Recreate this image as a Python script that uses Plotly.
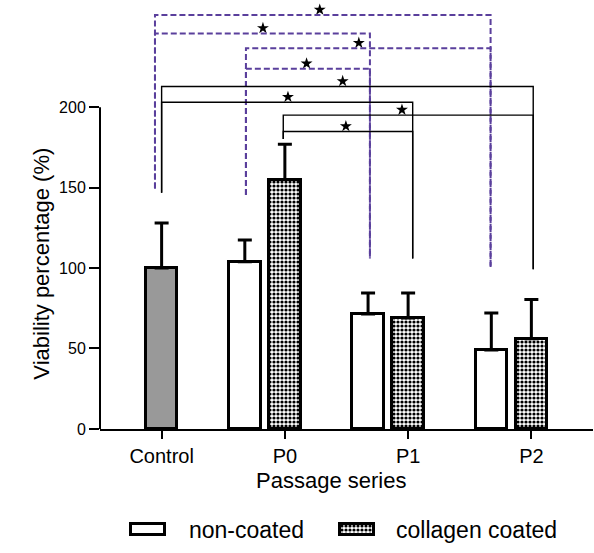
import plotly.graph_objects as go

# ---------------- data ----------------
categories = ["Control", "P0", "P1", "P2"]
group_pos = [0, 1, 2, 3]

control_value = [100]
control_err = [28]

noncoated_values = [104, 71.5, 49]
noncoated_err = [13.5, 13, 23]

collagen_values = [155, 69, 56]
collagen_err = [22, 15.5, 24.5]

y_ticks = [0, 50, 100, 150, 200]

# significance brackets: (x_left, x_right, y_top, y_left_end, y_right_end, star_x, dashed)
brackets = [
    (-0.054, 2.669, 257.3, 149.4, 100.6, 1.283, True),
    (-0.054, 1.690, 245.9, 149.4, 105.9, 0.822, True),
    (0.684, 2.669, 236.7, 145.5, 100.6, 1.600, True),
    (0.684, 1.690, 223.9, 145.5, 105.9, 1.176, True),
    (0.0, 3.015, 212.9, 146.9, 99.2, 1.469, False),
    (0.0, 2.037, 203.1, 146.9, 105.9, 1.025, False),
    (0.987, 3.015, 195.1, 180.2, 99.2, 1.950, False),
    (0.987, 2.037, 184.9, 180.2, 105.9, 1.495, False),
]

# ---------------- style ----------------
FONT = "Arial, Liberation Sans, Helvetica, sans-serif"
W, H = 594, 553
PLOT_L, PLOT_R, PLOT_BOTTOM = 100, 593, 436
OFFSET = 0.325
BAR_W = 0.255
PURPLE = "#5a3f9c"
pattern = dict(shape=".", fgcolor="black", bgcolor="white", size=4, solidity=0.5, fillmode="replace")

fig = go.Figure()

err_style = dict(type="data", symmetric=False, thickness=3, width=7, color="black")

fig.add_trace(go.Bar(
    x=[group_pos[0]], y=control_value, width=BAR_W,
    marker=dict(color="#999999", line=dict(color="black", width=3)),
    error_y=dict(array=control_err, arrayminus=[0] * len(control_err), **err_style),
    showlegend=False,
))
fig.add_trace(go.Bar(
    x=[p - OFFSET for p in group_pos[1:]], y=noncoated_values, width=BAR_W,
    marker=dict(color="white", line=dict(color="black", width=3)),
    error_y=dict(array=noncoated_err, arrayminus=[0] * len(noncoated_err), **err_style),
    showlegend=False,
))
fig.add_trace(go.Bar(
    x=group_pos[1:], y=collagen_values, width=BAR_W,
    marker=dict(color="white", line=dict(color="black", width=3), pattern=pattern),
    error_y=dict(array=collagen_err, arrayminus=[0] * len(collagen_err), **err_style),
    showlegend=False,
))

# brackets
shapes = []
star_x, star_y = [], []
for xl, xr, yt, yle, yre, sx, dashed in brackets:
    line = dict(color=PURPLE, width=2, dash="6px,3px") if dashed else dict(color="black", width=1.4)
    shapes.append(dict(
        type="path", xref="x", yref="y",
        path=f"M {xl},{yle} L {xl},{yt} L {xr},{yt} L {xr},{yre}",
        line=line, layer="above",
    ))
    star_x.append(sx)
    star_y.append(yt + 3.3)

fig.add_trace(go.Scatter(
    x=star_x, y=star_y, mode="markers",
    marker=dict(symbol="star", size=9, color="black", line=dict(width=0)),
    showlegend=False, hoverinfo="skip",
))

# y axis line drawn only up to 200
shapes.append(dict(type="line", xref="paper", yref="y",
                   x0=PLOT_L / W, x1=PLOT_L / W, y0=0, y1=200,
                   line=dict(color="black", width=2)))

# legend swatches on a pixel-coordinate helper axis
fig.add_trace(go.Bar(
    x=[148.3], y=[11], base=[532.5], width=[34], xaxis="x2", yaxis="y2",
    marker=dict(color="white", line=dict(color="black", width=3)),
    showlegend=False, hoverinfo="skip",
))
fig.add_trace(go.Bar(
    x=[356.5], y=[11], base=[532.5], width=[34], xaxis="x2", yaxis="y2",
    marker=dict(color="white", line=dict(color="black", width=3), pattern=pattern),
    showlegend=False, hoverinfo="skip",
))

annotations = [
    dict(text="non-coated", x=187, y=538.5, xref="x2", yref="y2", xanchor="left", yanchor="middle",
         showarrow=False, font=dict(family=FONT, size=23, color="black")),
    dict(text="collagen coated", x=394, y=538.5, xref="x2", yref="y2", xanchor="left", yanchor="middle",
         showarrow=False, font=dict(family=FONT, size=23, color="black")),
    dict(text="Passage series", x=331, y=488, xref="x2", yref="y2", xanchor="center", yanchor="middle",
         showarrow=False, font=dict(family=FONT, size=22, color="black")),
    dict(text="Viability percentage (%)", x=42, y=268, xref="x2", yref="y2", xanchor="center",
         yanchor="middle", textangle=-90, showarrow=False, font=dict(family=FONT, size=22, color="black")),
]

y_top = PLOT_BOTTOM / (327.0 / 200.0)

fig.update_layout(
    width=W, height=H,
    margin=dict(l=0, r=0, t=0, b=0),
    paper_bgcolor="white", plot_bgcolor="rgba(0,0,0,0)",
    barmode="overlay", bargap=0,
    shapes=shapes, annotations=annotations,
    font=dict(family=FONT, color="black"),
    xaxis=dict(
        domain=[PLOT_L / W, PLOT_R / W], range=[-0.5, 3.5],
        tickvals=group_pos, ticktext=categories,
        tickfont=dict(size=20, family=FONT, color="black"),
        ticks="outside", ticklen=8, tickwidth=2, tickcolor="black",
        showline=True, linewidth=2, linecolor="black",
        showgrid=False, zeroline=False, anchor="y",
    ),
    yaxis=dict(
        domain=[(H - PLOT_BOTTOM) / H, 1], range=[0, y_top],
        tickvals=y_ticks, ticktext=[str(v) for v in y_ticks],
        tickfont=dict(size=16, family=FONT, color="black"),
        ticks="outside", ticklen=10, tickwidth=2, tickcolor="black",
        showline=False, showgrid=False, zeroline=False, anchor="x",
    ),
    xaxis2=dict(domain=[0, 1], range=[0, W], visible=False, anchor="y2", fixedrange=True),
    yaxis2=dict(domain=[0, 1], range=[H, 0], visible=False, anchor="x2", fixedrange=True),
)

fig.write_html(
    "out.html",
    config={"displayModeBar": False},
    post_script="document.body.style.margin='0px';document.body.style.padding='0px';",
)
